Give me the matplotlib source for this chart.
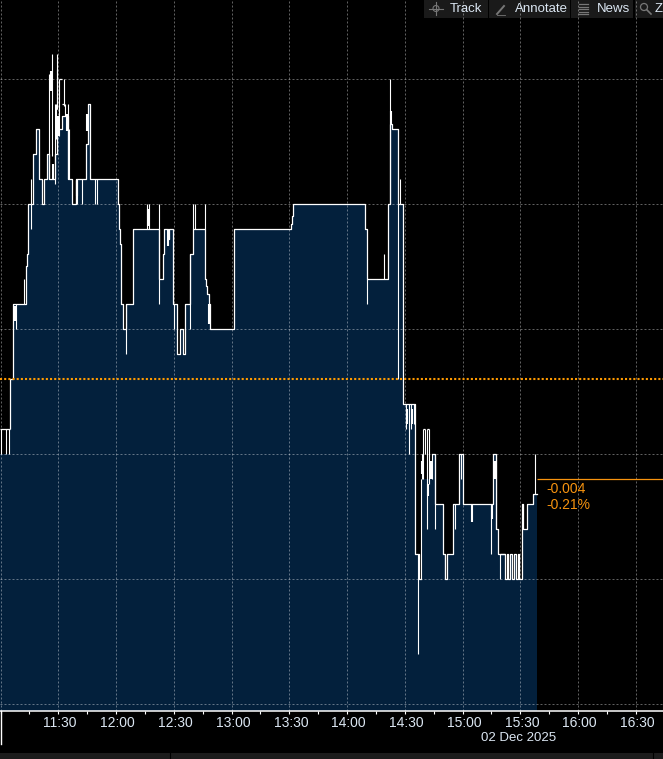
#!/usr/bin/env python3

import matplotlib
matplotlib.use("Agg")
import matplotlib.pyplot as plt
from matplotlib.patches import Rectangle, Circle
from matplotlib.transforms import ScaledTranslation

# all times are minutes after 11:00, all levels are thousandths from the prior close
step_min = [-0.3, 4.9, 6.6, 13.2, 13.9, 14.4, 17.0, 18.6, 20.1, 21.3, 22.7, 23.9, 25.2,
	28.1, 29.5, 32.1, 34.9, 37.3, 39.0, 44.2, 45.2, 46.6, 61.2, 61.7, 62.2, 62.7, 63.8,
	65.3, 68.6, 82.5, 84.2, 85.1, 86.8, 87.7, 89.4, 91.8, 93.4, 94.6, 96.0, 98.6, 99.8,
	106.4, 106.9, 107.4, 108.1, 108.8, 121.4, 150.7, 151.2, 151.7, 152.1, 189.5, 190.5,
	201.4, 202.5, 203.5, 206.6, 209.2, 215.5, 217.5, 218.2, 224.0, 225.9, 230.0, 231.0, 232.1,
	235.2, 238.3, 240.2, 255.6, 257.5, 258.6, 262.0, 262.9, 263.8, 264.6, 265.5, 266.7,
	267.7, 268.6, 269.5, 270.7, 271.6, 273.6, 276.8, 277.8, 278.7]
step_val = [-3, 0, 3, 4.5, 5, 7, 9, 10, 8, 7, 8, 9, 8,
	9, 10, 10.5, 8, 7, 8, 9.4, 11, 8, 7, 6, 5.4, 3, 2,
	3, 6, 4, 5, 6, 5.6, 6, 3, 1, 2, 1, 3, 5, 6,
	4, 3.7, 3.4, 3, 2, 6, 6.2, 6.5, 6.8, 7, 6, 4,
	7, 10.2, 10, 7, -1, -7, -8, -4, -3, -5, -7, -8, -7,
	-5, -3, -5, -3, -6, -7, -8, -7, -8, -7, -8, -7,
	-8, -7, -8, -5, -6, -5, -4.6, -4.6, -4.6]

# the fill top in this stretch has no white line on it
line_gap_min = 218.2

# flat pieces of the white line that sit above the filled area
flat_start = [-0.3, 30.5, 32.1, 219.0, 219.6, 221.7, 259.6]
flat_end = [4.9, 32.1, 33.0, 219.6, 220.7, 222.7, 262.0]
flat_val = [-2, 12, 11, -3, -2, -2, -7]

# high/low wicks
wick_min = [0.2, 2.6, 4.4, 8.2, 12.3, 16.0, 25.3, 26.5, 28.1, 28.8, 29.1, 29.5, 30.5, 33.0,
	33.6, 34.9, 35.7, 39.0, 39.9, 42.5, 49.2, 50.3, 65.3, 76.0, 77.3, 82.5, 90.3, 98.6,
	99.8, 101.2, 106.4, 190.5, 199.4, 202.5, 206.6, 207.7, 210.4, 212.2, 213.2, 214.8,
	217.0, 218.2, 219.0, 219.6, 220.7, 221.7, 222.7, 223.9, 225.9, 231.0, 236.2, 239.4,
	254.6, 257.5, 259.6, 277.8]
wick_lo = [-3, -3, -3, 2, 3, 6, 8, 8.9, 7.8, 9.6, 10.8, 10.8, 9.7, 10.9,
	10.5, 8, 8, 7, 7, 7, 7, 7, 1, 6, 6, 3, 2, 2,
	6, 6, 6, 3, 4, 7, 0, 7, -2, -3, -2, -1.8,
	-11, -8, -4, -4, -3, -6, -4.2, -4, -6, -8, -6, -4,
	-7, -6, -8, -4.6]
wick_hi = [-2, -2, -2, 3, 4, 8, 12.2, 13, 11, 11, 12.4, 13, 12, 12,
	11, 11, 10, 8, 8, 8, 8, 8, 3, 7, 7, 7, 3, 5,
	7, 7, 7, 4, 5, 12, 7, 8, -1, -1, -1, -1,
	-7, -4, -3, -2, -2, -2, -2, -3, -3, -7, -5, -3,
	-5, -3, -7, -3]

# short wicks that look doubled up in the picture
blob_min = [7.4, 26.0, 27.4, 30.0, 34.3, 39.5, 44.7, 76.4, 87.1, 108.4, 203.0, 211.3, 213.9,
	218.7, 222.2, 223.4, 245.0, 255.1, 256.7]
blob_lo = [2.3, 11.5, 8, 9.7, 9.9, 7.3, 9.9, 6.1, 5.3, 2.2, 10.2, -1.8, -1.8,
	-3.8, -4.7, -4, -5.7, -5.6, -4]
blob_hi = [2.9, 12.3, 8.6, 10.5, 10.6, 7.9, 10.6, 6.8, 6, 3, 10.7, -1.2, -1.2,
	-3.3, -4.2, -3.3, -5, -5, -3.3]

grid_levels = [12, 7, 2, -3, -8, -13]
major_min = [0, 30, 60, 90, 120, 150, 180, 210, 240, 270, 300, 330]
minor_min = [15, 45, 75, 105, 135, 165, 195, 225, 255, 285, 315]
time_labels = ["", "11:30", "12:00", "12:30", "13:00", "13:30", "14:00", "14:30",
	"15:00", "15:30", "16:00", "16:30"]
date_label = "02 Dec 2025"

last_level = -4
last_change = "-0.004"
last_pct = "-0.21%"

toolbar_labels = ["Track", "Annotate", "News", "Z"]

NAVY = "#03203c"
ORANGE = "#f7930f"
LABEL = "#dbe6f2"
W, H = 663, 759


def draw_chrome(fig):
	"""Toolbar and bottom strip, laid out in pixels."""
	ui = fig.add_axes([0, 0, 1, 1], zorder=0)
	ui.set_xlim(0, W)
	ui.set_ylim(H, 0)
	ui.axis("off")

	for x0, x1 in [(424, 488), (489, 570), (571, 633), (635, 663)]:
		ui.add_patch(Rectangle((x0, 0), x1 - x0, 18, color="#1a1a1a", lw=0))
	ui.add_patch(Rectangle((0, 753), W, 6, color="#1c1c1c", lw=0))
	ui.plot([170, 170], [753, 759], color="black", lw=0.8)
	ui.plot([653, 653], [753, 759], color="black", lw=0.8)

	for label, x in zip(toolbar_labels, [450, 515, 597, 655]):
		ui.text(x, 9.5, label, color=LABEL, fontsize=9.5, family="Liberation Sans",
			ha="left", va="center")

	# little icons
	grey = "#777777"
	ui.add_patch(Circle((436, 8.5), 3, fill=False, ec=grey, lw=0.8))
	ui.plot([429, 443], [8.5, 8.5], color=grey, lw=0.8)
	ui.plot([436, 436], [2, 15], color=grey, lw=0.8)
	ui.plot([497, 504], [14, 6], color=grey, lw=1.4)
	ui.plot([497, 505], [15, 15], color=grey, lw=0.6)
	for y in [4, 6.5, 9, 11.5, 14]:
		ui.plot([579, 588], [y, y], color=grey, lw=0.9)
	ui.add_patch(Circle((644, 7), 3.5, fill=False, ec=grey, lw=0.9))
	ui.plot([647, 651], [10, 14], color=grey, lw=1.2)

	# the axis line carries on down the left edge
	ui.plot([0.5, 0.5], [711, 744], color="white", lw=1)


def draw_chart(fig):
	"""The price chart, scaled so that 30 minutes is 57.75 px and one level is 25 px."""
	ax = fig.add_axes([0, 48 / H, 1, 711 / H], zorder=1)
	ax.patch.set_alpha(0)
	ax.set_xlim(-0.3, 344.1)
	ax.set_ylim(-13.28, 15.16)

	ax.fill_between(step_min, step_val, -13.28, step="post", color=NAVY, lw=0, zorder=1)

	# the white line starts one level above the fill, so skip its first flat piece
	line_val = [float("nan") if m == line_gap_min else v for m, v in zip(step_min, step_val)]
	ax.step(step_min[1:], line_val[1:], where="post", color="white", lw=0.9, zorder=3)
	ax.hlines(flat_val, flat_start, flat_end, color="white", lw=0.9, zorder=3)
	ax.vlines([step_min[1]], [-2], [0], color="white", lw=0.9, zorder=3)
	ax.vlines(wick_min, wick_lo, wick_hi, color="white", lw=0.8, zorder=3)
	ax.vlines(blob_min, blob_lo, blob_hi, color="white", lw=1.5, zorder=3)

	# prior close and last price
	ax.axhline(0, color="#ff9a00", lw=1.5, linestyle=(0, (1, 1)), zorder=4)
	ax.hlines([last_level], step_min[-1] - 0.3, 344.1, color=ORANGE, lw=0.9, zorder=4)
	ax.text(283.3, -4.4, last_change, color=ORANGE, fontsize=10, family="Liberation Sans",
		va="center", zorder=5)
	ax.text(283.3, -5.04, last_pct, color=ORANGE, fontsize=10, family="Liberation Sans",
		va="center", zorder=5)

	ax.set_xticks(major_min)
	ax.set_xticklabels(time_labels, family="Liberation Sans", fontsize=10, color=LABEL)
	ax.set_xticks(minor_min, minor=True)
	ax.set_yticks(grid_levels)
	ax.set_yticklabels([])
	ax.tick_params(axis="x", which="both", direction="out", length=2.5, width=0.8,
		color="white", pad=1)
	ax.tick_params(axis="y", length=0)
	# labels sit a little right of their ticks
	nudge = ScaledTranslation(1.5 / 100, 0, fig.dpi_scale_trans)
	for tick in ax.get_xticklabels():
		tick.set_transform(tick.get_transform() + nudge)

	ax.set_axisbelow("line")
	ax.grid(True, which="major", color="white", alpha=0.38, lw=0.72, linestyle=(0, (2, 2)))

	for side in ["top", "left", "right"]:
		ax.spines[side].set_visible(False)
	ax.spines["bottom"].set_color("white")
	ax.spines["bottom"].set_linewidth(1.1)

	fig.text(519 / W, 1 - 738 / H, date_label, color=LABEL, fontsize=9.5,
		family="Liberation Sans", ha="center", va="center")


def main():
	fig = plt.figure(figsize=(W / 100, H / 100), dpi=100, facecolor="black")
	draw_chrome(fig)
	draw_chart(fig)
	fig.savefig("out.png", dpi=100, facecolor="black")


if __name__ == "__main__":
	main()
